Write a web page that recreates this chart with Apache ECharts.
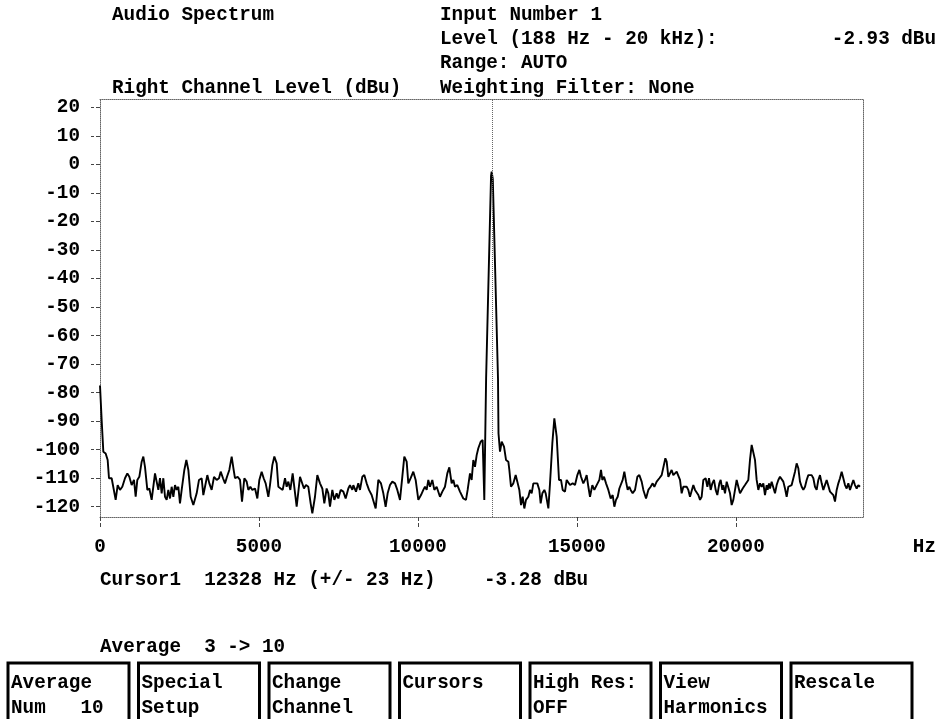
<!DOCTYPE html>
<html>
<head>
<meta charset="utf-8">
<script src="https://cdn.jsdelivr.net/npm/echarts@6/dist/echarts.min.js"></script>
<style>
html,body{margin:0;padding:0;background:#fff;}
#chart{width:945px;height:719px;}
</style>
</head>
<body>
<div id="chart"></div>
<script>
// ---- data ----
const freqHz = [
  0,52,105,178,241,283,367,419,493,556,
  629,702,786,860,923,996,1069,1122,1174,1237,
  1311,1363,1415,1489,1552,1625,1730,1782,1835,1887,
  1940,1992,2045,2097,2149,2202,2254,2307,2359,2412,
  2464,2516,2569,2653,2716,2779,2852,2936,2988,3041,
  3114,3198,3250,3303,3376,3439,3512,3586,3670,3743,
  3796,3869,3932,3995,4068,4142,4204,4246,4330,4404,
  4467,4540,4613,4666,4729,4792,4876,4949,5012,5085,
  5148,5211,5295,5347,5421,5484,5557,5610,5683,5746,
  5819,5872,5924,5987,
  6060,6186,6291,6343,6416,6479,6553,6626,6679,6762,
  6836,6920,6993,7056,7129,7182,7234,7308,7371,7444,
  7496,7570,7654,7727,7811,7863,7937,7968,8052,8125,
  8178,8251,8314,8388,8461,8545,8597,8671,8755,8838,
  8912,8985,9048,9122,9195,9279,9352,9436,9509,9572,
  9646,9698,9772,9855,9929,10013,10097,10170,10222,10275,
  10327,10380,10453,10516,10589,10641,10694,10768,10851,10925,
  10988,11061,11114,11166,11239,11323,11428,11512,11564,11638,
  11690,11743,11795,11848,11900,11973,12036,12088,
  12145,12300,12320,12355,12519,12535,
  12582,12635,12708,12771,12844,12876,12928,13002,13075,13127,
  13190,13243,13295,13347,13400,13473,13526,13578,13631,13683,
  13756,13819,13861,13914,13977,14019,14103,14155,14228,14291,
  14365,14438,14501,14553,14626,14679,14732,14784,14868,14941,
  15015,15078,15130,15203,15256,15308,15361,15413,15486,15549,
  15623,15707,15759,15801,15854,15917,15990,16063,16126,16179,
  16231,16284,16336,16388,16441,16493,16546,16598,16650,16692,
  16755,16829,16902,16965,17038,17091,17175,17248,17321,17384,
  17437,17510,17594,17667,17720,17783,17825,17877,
  17929,17981,18034,18086,18139,18191,18244,18296,18348,18401,
  18453,18506,18558,18611,18663,18716,18768,18821,18873,18925,
  18978,19051,19104,19156,19208,19261,19313,19366,19418,19481,
  19523,19575,19607,19659,19712,19764,19817,19869,19921,19974,
  20026,20079,20131,20215,20288,20341,20393,20445,20498,20550,
  20603,20655,20708,20760,20813,20865,20917,20970,21001,21043,
  21075,21127,21180,21232,21284,21337,21389,21442,21494,21547,
  21599,21651,21704,21756,21809,21861,21913,21966,22018,22071,
  22123,22176,22228,22280,22333,22385,22438,22490,22542,22595,
  22647,22700,22752,22805,22857,22909,22962,23014,23067,23119,
  23172,23224,23276,23329,23381,23434,23486,23539,23591,23643,
  23696,23748,23801,23853,23905
];
const levelDbu = [
  -77.5,-89.6,-100.7,-101.3,-103.6,-110.0,-110.0,-109.5,-117.6,-112.4,
  -114.1,-113.0,-110.0,-108.3,-109.5,-112.4,-110.6,-116.5,-110.6,-109.5,
  -104.2,-102.4,-106.0,-114.1,-113.6,-117.6,-108.3,-111.2,-114.1,-110.0,
  -115.3,-110.0,-116.5,-117.6,-114.1,-117.1,-113.0,-116.5,-112.4,-114.1,
  -113.0,-118.8,-114.1,-107.1,-103.6,-107.1,-116.5,-119.4,-120.0,-115.3,
  -110.6,-110.0,-115.9,-113.0,-108.9,-111.8,-114.1,-109.5,-110.6,-110.0,
  -107.7,-110.0,-111.8,-109.5,-107.1,-102.4,-107.1,-110.0,-109.5,-110.6,
  -118.2,-110.0,-111.2,-114.1,-113.0,-114.1,-113.6,-117.1,-110.6,-107.7,
  -110.0,-111.8,-116.5,-112.4,-105.4,-102.4,-104.8,-113.0,-113.6,-114.1,
  -110.0,-113.0,-111.2,-114.1,
  -108.3,-120.0,-109.5,-109.2,-113.6,-112.4,-113.0,-118.8,-122.3,-116.5,
  -108.9,-111.8,-113.6,-118.8,-113.6,-115.3,-120.0,-114.1,-117.6,-115.3,
  -117.1,-114.1,-114.7,-117.1,-113.6,-112.4,-114.1,-112.4,-114.7,-111.8,
  -114.1,-109.5,-108.9,-111.8,-114.1,-115.9,-116.5,-120.6,-110.6,-111.8,
  -115.3,-120.0,-115.3,-112.4,-111.2,-111.8,-114.1,-117.6,-109.5,-102.4,
  -104.2,-111.8,-110.0,-107.7,-110.6,-117.6,-115.9,-114.1,-113.0,-114.1,
  -110.6,-113.0,-110.6,-114.1,-113.0,-112.4,-116.5,-114.7,-113.0,-108.3,
  -106.2,-111.8,-110.6,-113.0,-112.4,-114.7,-117.1,-117.6,-114.1,-108.3,
  -110.6,-103.6,-106.0,-101.9,-99.5,-97.2,-96.6,-117.6,
  -75.0,-4.0,-2.5,-5.0,-75.0,-94.3,
  -100.7,-97.2,-98.9,-103.6,-104.2,-107.1,-113.0,-111.8,-108.9,-111.2,
  -114.1,-119.4,-116.5,-120.6,-117.6,-116.5,-114.1,-115.3,-111.8,-111.2,
  -111.8,-114.1,-118.8,-115.3,-114.1,-115.3,-120.6,-111.8,-97.8,-89.0,
  -95.4,-110.6,-110.6,-114.1,-114.7,-110.6,-111.2,-112.4,-111.8,-112.4,
  -108.9,-107.1,-109.5,-111.8,-110.6,-108.9,-113.0,-116.5,-112.4,-114.1,
  -112.4,-110.6,-107.1,-110.6,-109.5,-111.8,-114.1,-117.1,-115.9,-120.0,
  -117.6,-116.5,-113.6,-113.0,-110.6,-107.7,-111.2,-114.1,-113.0,-114.1,
  -115.3,-114.1,-109.5,-108.9,-111.2,-114.1,-117.1,-114.1,-113.0,-111.8,
  -113.0,-111.2,-110.0,-108.9,-108.3,-103.0,-104.2,-109.5,
  -108.3,-107.1,-108.9,-108.3,-107.7,-107.1,-110.6,-115.3,-113.0,-112.4,
  -113.0,-114.1,-116.5,-115.9,-112.4,-114.1,-114.7,-115.9,-117.6,-116.5,
  -110.6,-110.0,-113.0,-110.0,-114.1,-111.8,-110.6,-114.1,-115.9,-111.8,
  -110.6,-114.1,-112.4,-115.3,-111.2,-110.6,-115.3,-119.4,-117.6,-114.1,
  -110.6,-113.0,-115.3,-113.6,-112.4,-113.0,-110.6,-103.6,-98.3,-98.9,
  -103.6,-110.6,-114.1,-111.8,-113.0,-111.8,-115.9,-112.4,-114.1,-111.8,
  -113.6,-111.2,-111.8,-115.3,-112.4,-110.6,-109.5,-109.5,-111.2,-113.6,
  -116.5,-113.0,-113.6,-112.4,-110.0,-107.7,-104.8,-106.5,-111.2,-113.0,
  -114.1,-113.0,-110.6,-108.9,-108.3,-108.9,-110.0,-113.0,-114.1,-110.6,
  -108.9,-111.8,-114.1,-113.6,-110.6,-111.2,-114.7,-115.3,-115.9,-118.2,
  -114.1,-111.8,-110.0,-107.7,-110.0,-112.4,-113.6,-111.8,-114.1,-114.7,
  -110.6,-112.4,-113.6,-112.4,-113.0
];
const xTicks = [0, 5000, 10000, 15000, 20000];
const yTicks = [20, 10, 0, -10, -20, -30, -40, -50, -60, -70, -80, -90, -100, -110, -120];
const cursorHz = 12328;
const headerLeft = ['Audio Spectrum', 'Right Channel Level (dBu)'];
const headerRight = ['Input Number 1', 'Level (188 Hz - 20 kHz):', 'Range: AUTO', 'Weighting Filter: None'];
const levelReading = '-2.93 dBu';
const cursorText = 'Cursor1  12328 Hz (+/- 23 Hz)';
const cursorLevel = '-3.28 dBu';
const averageText = 'Average  3 -> 10';
const buttonLabels = [
  ['Average', 'Num   10'], ['Special', 'Setup'], ['Change', 'Channel'],
  ['Cursors', ''], ['High Res:', 'OFF'], ['View', 'Harmonics'], ['Rescale', '']
];

// ---- build chart ----
const FONT_FAMILY = '"Liberation Mono", "Courier New", monospace';
const FONT_SIZE = 19.3;
const FONT = 'bold ' + FONT_SIZE + 'px ' + FONT_FAMILY;
const data = freqHz.map((f, i) => [f, levelDbu[i]]);
const frameLine = { show: true, onZero: false, lineStyle: { color: '#666', type: 'dotted', width: 1 } };

function txt(text, x, y, align) {
  return { type: 'text', silent: true, style: { text: text, x: x, y: y, font: FONT, fill: '#000', align: align || 'left', verticalAlign: 'middle' } };
}
const graphics = [];
graphics.push(txt(headerLeft[0], 112, 15));
graphics.push(txt(headerLeft[1], 112, 88));
headerRight.forEach((t, i) => graphics.push(txt(t, 440, [15, 39, 63, 88][i])));
graphics.push(txt(levelReading, 936, 39, 'right'));
graphics.push(txt('Hz', 936, 547, 'right'));
graphics.push(txt(cursorText, 100, 580));
graphics.push(txt(cursorLevel, 484, 580));
graphics.push(txt(averageText, 100, 647));
buttonLabels.forEach((lab, i) => {
  const x0 = 8 + i * 130.5;
  graphics.push({ type: 'rect', silent: true, shape: { x: x0, y: 663, width: 121, height: 70 }, style: { fill: '#fff', stroke: '#000', lineWidth: 3 } });
  graphics.push(txt(lab[0], x0 + 3, 683));
  if (lab[1]) graphics.push(txt(lab[1], x0 + 3, 708));
});

const labelStyle = { color: '#000', fontFamily: FONT_FAMILY, fontWeight: 'bold', fontSize: FONT_SIZE, formatter: v => String(v) };

const chart = echarts.init(document.getElementById('chart'), null, { renderer: 'canvas' });
chart.setOption({
  animation: false,
  backgroundColor: '#fff',
  grid: { left: 100, top: 99, right: 82, bottom: 202, containLabel: false },
  xAxis: [{
    type: 'value', min: 0, max: 24000, position: 'bottom',
    axisLine: frameLine,
    axisTick: { show: true, length: 10, customValues: xTicks, lineStyle: { color: '#444', type: 'dashed', width: 1 } },
    axisLabel: Object.assign({ show: true, customValues: xTicks, margin: 21 }, labelStyle),
    splitLine: { show: false }
  }, {
    type: 'value', min: 0, max: 24000, position: 'top',
    axisLine: frameLine, axisTick: { show: false }, axisLabel: { show: false }, splitLine: { show: false }
  }],
  yAxis: [{
    type: 'value', min: -123.6, max: 23, position: 'left',
    axisLine: frameLine,
    axisTick: { show: true, length: 9, customValues: yTicks, lineStyle: { color: '#444', type: 'dashed', width: 1 } },
    axisLabel: Object.assign({ show: true, customValues: yTicks, margin: 20 }, labelStyle),
    splitLine: { show: false }
  }, {
    type: 'value', min: -123.6, max: 23, position: 'right',
    axisLine: frameLine, axisTick: { show: false }, axisLabel: { show: false }, splitLine: { show: false }
  }],
  series: [{
    type: 'line', data: data, showSymbol: false, symbol: 'none',
    lineStyle: { color: '#000', width: 1.9 },
    xAxisIndex: 0, yAxisIndex: 0,
    markLine: {
      silent: true, symbol: ['none', 'none'], label: { show: false },
      lineStyle: { color: '#666', type: 'dotted', width: 1 },
      data: [{ xAxis: cursorHz }]
    }
  }],
  graphic: graphics
});
</script>
</body>
</html>
